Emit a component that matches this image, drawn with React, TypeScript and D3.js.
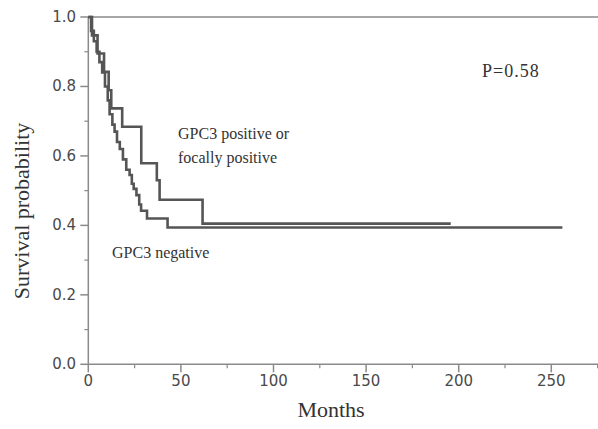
import React from "react";
import * as d3 from "d3";

const W = 598;
const H = 429;

// Kaplan-Meier steps: [months, survival]
const positiveSteps: [number, number][] = [
  [0, 1.0], [2, 0.947], [5, 0.895], [8.5, 0.842], [11, 0.789], [12.4, 0.737],
  [18.3, 0.684], [28.6, 0.579], [37, 0.53], [38.5, 0.474], [61.7, 0.405], [195.7, 0.405],
];
const negativeSteps: [number, number][] = [
  [0, 1.0], [1.5, 0.96], [3, 0.93], [4.5, 0.9], [6, 0.87], [7.5, 0.84], [9, 0.8],
  [10.5, 0.76], [11.5, 0.72], [13, 0.69], [14.2, 0.67], [15.5, 0.64], [17, 0.62],
  [18.7, 0.59], [20.5, 0.56], [22.3, 0.545], [23.5, 0.52], [24.5, 0.505], [26, 0.487],
  [27.5, 0.46], [28.5, 0.442], [31.7, 0.42], [42.8, 0.394], [256, 0.394],
];

const xTicks = [0, 50, 100, 150, 200, 250];
const xMinor = [25, 75, 125, 175, 225, 275];
const yTicks = [0, 0.2, 0.4, 0.6, 0.8, 1.0];
const yMinor = [0.1, 0.3, 0.5, 0.7, 0.9];

export default function App() {
  const x = d3.scaleLinear().domain([0, 250]).range([88.3, 551.3]);
  const y = d3.scaleLinear().domain([0, 1]).range([364.3, 17]);
  const line = d3
    .line<[number, number]>()
    .x((d) => x(d[0]))
    .y((d) => y(d[1]))
    .curve(d3.curveStepAfter);

  const axisColor = "#8a8a8a";
  const tickText = "#4a4a4a";
  const curveColor = "#555555";
  const serif = "'Liberation Serif', 'Times New Roman', serif";
  const sans = "'DejaVu Sans', Verdana, sans-serif";

  return (
    <svg width={W} height={H} style={{ position: "absolute", left: 0, top: 0, background: "#fff" }}>
      <rect x={0} y={0} width={W} height={H} fill="#fff" />
      {/* axes */}
      <line x1={x(0)} x2={W} y1={y(0)} y2={y(0)} stroke={axisColor} strokeWidth={1.5} />
      <line x1={x(0)} x2={x(0)} y1={y(0)} y2={y(1)} stroke={axisColor} strokeWidth={1.5} />
      <line x1={x(0)} x2={W} y1={y(1)} y2={y(1)} stroke={axisColor} strokeWidth={1.5} />
      {xTicks.map((t) => (
        <g key={"xt" + t}>
          <line x1={x(t)} x2={x(t)} y1={y(0)} y2={y(0) + 8} stroke={axisColor} strokeWidth={1.5} />
          <text x={x(t)} y={386} textAnchor="middle" fontFamily={sans} fontSize={15} fill={tickText}>
            {t}
          </text>
        </g>
      ))}
      {xMinor.map((t) => (
        <line key={"xm" + t} x1={x(t)} x2={x(t)} y1={y(0)} y2={y(0) + 4} stroke={axisColor} strokeWidth={1.2} />
      ))}
      {yTicks.map((t) => (
        <g key={"yt" + t}>
          <line x1={x(0) - 8} x2={x(0)} y1={y(t)} y2={y(t)} stroke={axisColor} strokeWidth={1.5} />
          <text x={76} y={y(t) + 5} textAnchor="end" fontFamily={sans} fontSize={15} fill={tickText}>
            {t.toFixed(1)}
          </text>
        </g>
      ))}
      {yMinor.map((t) => (
        <line key={"ym" + t} x1={x(0) - 4} x2={x(0)} y1={y(t)} y2={y(t)} stroke={axisColor} strokeWidth={1.2} />
      ))}
      {/* curves */}
      <path d={line(negativeSteps) || ""} fill="none" stroke={curveColor} strokeWidth={2.6} />
      <path d={line(positiveSteps) || ""} fill="none" stroke={curveColor} strokeWidth={2.6} />
      {/* titles */}
      <text x={331} y={417} textAnchor="middle" fontFamily={serif} fontSize={22} fill="#333">
        Months
      </text>
      <text
        transform={`translate(29, 211) rotate(-90)`}
        textAnchor="middle"
        fontFamily={serif}
        fontSize={22}
        fill="#333"
      >
        Survival probability
      </text>
      {/* annotations */}
      <text x={482} y={77} fontFamily={serif} fontSize={18} letterSpacing={1} fill="#333">
        P=0.58
      </text>
      <text x={178} y={139} fontFamily={serif} fontSize={16} fill="#333">
        GPC3 positive or
      </text>
      <text x={178} y={163} fontFamily={serif} fontSize={16} fill="#333">
        focally positive
      </text>
      <text x={112} y={258} fontFamily={serif} fontSize={16} fill="#333">
        GPC3 negative
      </text>
    </svg>
  );
}
